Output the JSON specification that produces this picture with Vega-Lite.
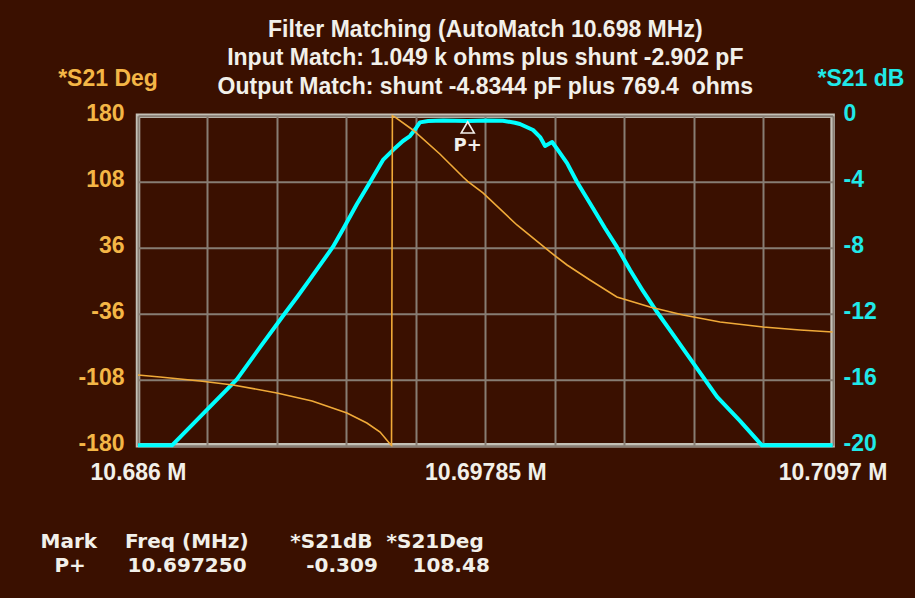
{
  "$schema": "https://vega.github.io/schema/vega-lite/v6.json",
  "width": 694.6,
  "height": 329.5,
  "autosize": {"type": "none"},
  "padding": {"left": 138, "top": 115.8, "right": 82.4, "bottom": 152.7},
  "background": "#3a1000",
  "title": {
    "text": ["Filter Matching (AutoMatch 10.698 MHz)", "Input Match: 1.049 k ohms plus shunt -2.902 pF", "Output Match: shunt -4.8344 pF plus 769.4\u00a0\u00a0ohms"],
    "color": "#f2f0ea",
    "font": "Liberation Sans",
    "fontSize": 23,
    "fontWeight": "bold",
    "lineHeight": 28.5,
    "anchor": "middle",
    "offset": -31
  },
  "config": {
    "view": {"stroke": "#c3c0b6", "strokeWidth": 4.5, "fill": null},
    "axis": {"tickSize": 0, "ticks": false, "domain": false, "labelFlush": false, "labelBound": false, "labelOverlap": false}
  },
  "datasets": {
    "db": [
      {"f": 10.686, "v": -20}, {"f": 10.68716, "v": -20}, {"f": 10.68938, "v": -15.98}, {"f": 10.69016, "v": -14.06},
      {"f": 10.69102, "v": -11.97}, {"f": 10.69143, "v": -11.0}, {"f": 10.69187, "v": -9.91}, {"f": 10.69265, "v": -7.96},
      {"f": 10.693, "v": -6.87}, {"f": 10.69347, "v": -5.35}, {"f": 10.69392, "v": -4.02}, {"f": 10.69436, "v": -2.68},
      {"f": 10.6947, "v": -2.08}, {"f": 10.69504, "v": -1.53}, {"f": 10.69528, "v": -1.23}, {"f": 10.69549, "v": -0.74},
      {"f": 10.69562, "v": -0.4}, {"f": 10.6959, "v": -0.32}, {"f": 10.69641, "v": -0.29}, {"f": 10.69725, "v": -0.309},
      {"f": 10.6979, "v": -0.29}, {"f": 10.69845, "v": -0.3}, {"f": 10.69886, "v": -0.42}, {"f": 10.69903, "v": -0.5},
      {"f": 10.69948, "v": -0.86}, {"f": 10.69972, "v": -1.29}, {"f": 10.69989, "v": -1.83}, {"f": 10.70013, "v": -1.59},
      {"f": 10.70033, "v": -2.08}, {"f": 10.70064, "v": -2.87}, {"f": 10.70098, "v": -4.02}, {"f": 10.70152, "v": -5.6},
      {"f": 10.70193, "v": -6.81}, {"f": 10.70234, "v": -7.96}, {"f": 10.70279, "v": -9.36}, {"f": 10.70323, "v": -10.63},
      {"f": 10.70371, "v": -11.91}, {"f": 10.70432, "v": -13.43}, {"f": 10.70494, "v": -15.0}, {"f": 10.70576, "v": -17.06},
      {"f": 10.70654, "v": -18.52}, {"f": 10.70729, "v": -20}, {"f": 10.7097, "v": -20}
    ],
    "deg": [
      {"f": 10.686, "v": -103.2}, {"f": 10.68675, "v": -105.4}, {"f": 10.68812, "v": -109.7}, {"f": 10.68924, "v": -114.1},
      {"f": 10.69074, "v": -122.8}, {"f": 10.69194, "v": -131.6}, {"f": 10.69313, "v": -144.7}, {"f": 10.69381, "v": -155.6},
      {"f": 10.69426, "v": -165.5}, {"f": 10.6946, "v": -178.6}, {"f": 10.69465, "v": -180}, {"f": 10.69468, "v": 180},
      {"f": 10.69477, "v": 178.6}, {"f": 10.69538, "v": 164.5}, {"f": 10.6963, "v": 138.3}, {"f": 10.69709, "v": 113.1},
      {"f": 10.69725, "v": 108.48}, {"f": 10.69777, "v": 95.7}, {"f": 10.69893, "v": 60.7}, {"f": 10.70006, "v": 31.2},
      {"f": 10.70064, "v": 17.0}, {"f": 10.70142, "v": 0.6}, {"f": 10.70234, "v": -18.0}, {"f": 10.70347, "v": -28.9},
      {"f": 10.7046, "v": -37.6}, {"f": 10.70586, "v": -45.3}, {"f": 10.70733, "v": -50.7}, {"f": 10.70859, "v": -54.0},
      {"f": 10.7097, "v": -56.2}
    ],
    "marker": [{"f": 10.69725, "v": -0.309, "label": "P+"}]
  },
  "encoding": {
    "x": {
      "field": "f",
      "type": "quantitative",
      "scale": {"domain": [10.686, 10.7097], "nice": false, "zero": false},
      "axis": {
        "values": [10.686, 10.68837, 10.69074, 10.69311, 10.69548, 10.69785, 10.70022, 10.70259, 10.70496, 10.70733, 10.7097],
        "grid": true,
        "gridColor": "#877d73",
        "gridWidth": 2,
        "gridOpacity": 1,
        "labelExpr": "indexof([10.686, 10.69785, 10.7097], datum.value) >= 0 ? datum.value + ' M' : ''",
        "labelFont": "Liberation Sans",
        "labelFontSize": 23,
        "labelFontWeight": "bold",
        "labelColor": "#f2f0ea",
        "labelBaseline": "middle",
        "labelPadding": 27,
        "title": ["Mark\u00a0\u00a0\u00a0\u00a0Freq\u00a0(MHz)\u00a0\u00a0\u00a0\u00a0\u00a0\u00a0*S21dB\u00a0\u00a0*S21Deg", "\u200b\u00a0\u00a0P+\u00a0\u00a0\u00a0\u00a0\u00a0\u00a010.697250\u00a0\u00a0\u00a0\u00a0\u00a0\u00a0\u00a0\u00a0\u2009-0.309\u00a0\u00a0\u00a0\u00a0\u00a0108.48"],
        "titleFont": "DejaVu Sans",
        "titleFontSize": 20,
        "titleFontWeight": "bold",
        "titleColor": "#f2f0ea",
        "titleAlign": "left",
        "titleAnchor": "start",
        "titleBaseline": "alphabetic",
        "titleLineHeight": 24,
        "titleX": -98,
        "titleY": 101.7
      }
    }
  },
  "layer": [
    {
      "data": {"name": "db"},
      "mark": {"type": "line", "color": "#00ffff", "strokeWidth": 4, "strokeJoin": "round"},
      "encoding": {
        "y": {
          "field": "v",
          "type": "quantitative",
          "scale": {"domain": [-20, 0], "nice": false, "zero": false},
          "axis": {
            "orient": "right",
            "values": [-20, -16, -12, -8, -4, 0],
            "grid": false,
            "labelExpr": "'' + datum.value",
            "labelFont": "Liberation Sans",
            "labelFontSize": 23,
            "labelFontWeight": "bold",
            "labelColor": "#20e8e8",
            "labelPadding": 10.4,
            "labelOffset": -2,
            "title": "*S21 dB",
            "titleFont": "Liberation Sans",
            "titleFontSize": 23,
            "titleFontWeight": "bold",
            "titleColor": "#20e8e8",
            "titleAngle": 0,
            "titleAlign": "center",
            "titleBaseline": "alphabetic",
            "titleX": 27.9,
            "titleY": -30.3
          }
        }
      }
    },
    {
      "data": {"name": "deg"},
      "mark": {"type": "line", "color": "#f0aa38", "strokeWidth": 1.6},
      "encoding": {
        "y": {
          "field": "v",
          "type": "quantitative",
          "scale": {"domain": [-180, 180], "nice": false, "zero": false},
          "axis": {
            "orient": "left",
            "values": [-180, -108, -36, 36, 108, 180],
            "grid": true,
            "gridColor": "#877d73",
            "gridWidth": 2,
            "gridOpacity": 1,
            "labelExpr": "'' + datum.value",
            "labelFont": "Liberation Sans",
            "labelFontSize": 23,
            "labelFontWeight": "bold",
            "labelColor": "#f4b646",
            "labelPadding": 14,
            "labelOffset": -2,
            "title": "*S21 Deg",
            "titleFont": "Liberation Sans",
            "titleFontSize": 23,
            "titleFontWeight": "bold",
            "titleColor": "#f4b646",
            "titleAngle": 0,
            "titleAlign": "center",
            "titleBaseline": "alphabetic",
            "titleX": -30.5,
            "titleY": -30.3
          }
        }
      }
    },
    {
      "data": {"name": "marker"},
      "mark": {"type": "point", "shape": "triangle-up", "filled": false, "stroke": "#f2f0ea", "strokeWidth": 1.6, "size": 170, "yOffset": 6.5, "opacity": 1},
      "encoding": {
        "y": {"field": "v", "type": "quantitative", "scale": {"domain": [-20, 0], "nice": false, "zero": false}, "axis": null}
      }
    },
    {
      "data": {"name": "marker"},
      "mark": {"type": "text", "font": "DejaVu Sans", "fontSize": 18, "fontWeight": "bold", "color": "#f2f0ea", "baseline": "middle", "align": "center", "dy": 25},
      "encoding": {
        "y": {"field": "v", "type": "quantitative", "scale": {"domain": [-20, 0], "nice": false, "zero": false}, "axis": null},
        "text": {"field": "label"}
      }
    }
  ],
  "resolve": {"scale": {"y": "independent"}}
}
